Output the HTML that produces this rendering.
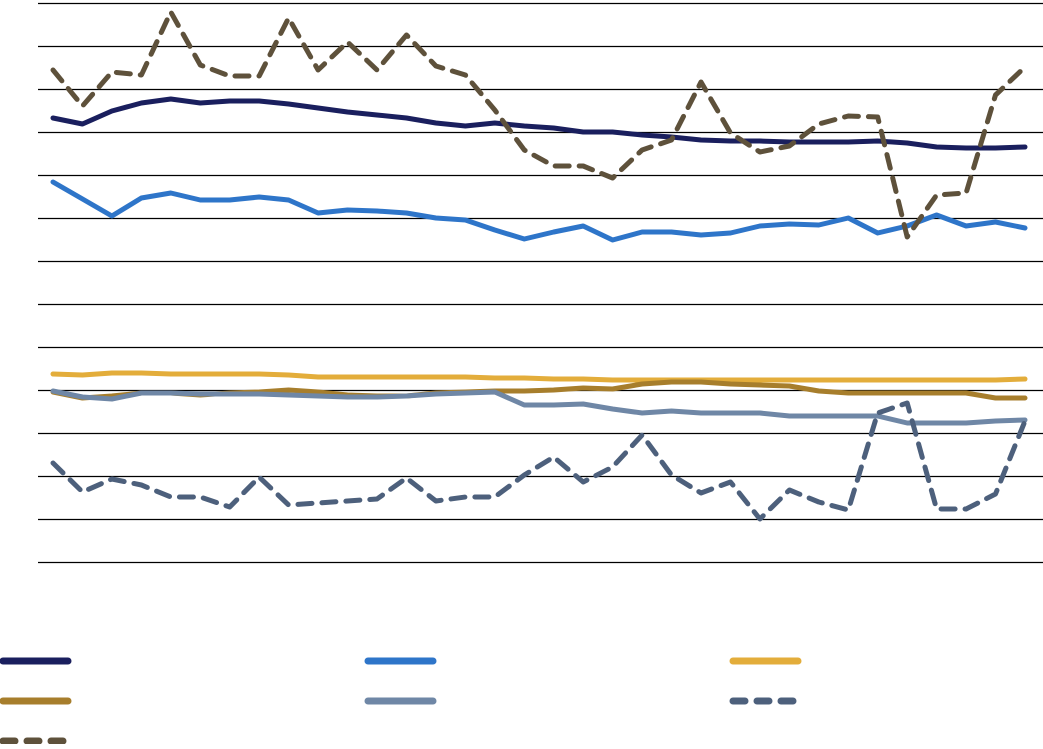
<!DOCTYPE html>
<html><head><meta charset="utf-8"><style>html,body{margin:0;padding:0;background:#fff}</style></head>
<body>
<svg width="1043" height="744" viewBox="0 0 1043 744" xmlns="http://www.w3.org/2000/svg">
<g stroke="#000" stroke-width="1.2">
<line x1="38" x2="1043" y1="3.5" y2="3.5"/><line x1="38" x2="1043" y1="46.5" y2="46.5"/><line x1="38" x2="1043" y1="89.5" y2="89.5"/><line x1="38" x2="1043" y1="132.5" y2="132.5"/><line x1="38" x2="1043" y1="175.5" y2="175.5"/><line x1="38" x2="1043" y1="218.5" y2="218.5"/><line x1="38" x2="1043" y1="261.5" y2="261.5"/><line x1="38" x2="1043" y1="304.5" y2="304.5"/><line x1="38" x2="1043" y1="347.5" y2="347.5"/><line x1="38" x2="1043" y1="390.5" y2="390.5"/><line x1="38" x2="1043" y1="433.5" y2="433.5"/><line x1="38" x2="1043" y1="476.5" y2="476.5"/><line x1="38" x2="1043" y1="519.5" y2="519.5"/><line x1="38" x2="1043" y1="562.5" y2="562.5"/>
</g>
<g fill="none" stroke-width="5" stroke-linejoin="round" stroke-linecap="round">
<path stroke="#1a1f5e" d="M53,118 L82.5,124 L111.9,111 L141.4,103 L170.8,99 L200.3,103 L229.7,101 L259.2,101 L288.6,104 L318.1,108 L347.5,112 L377,115 L406.5,118 L435.9,123 L465.4,126 L494.8,123 L524.3,126 L553.7,128 L583.2,132 L612.6,132 L642.1,135 L671.5,137 L701,140 L730.5,141 L759.9,141 L789.4,142 L818.8,142 L848.3,142 L877.7,141 L907.2,143 L936.6,147 L966.1,148 L995.5,148 L1025,147"/>
<path stroke="#2e75c9" d="M53,182 L82.5,199 L111.9,216 L141.4,198 L170.8,193 L200.3,200 L229.7,200 L259.2,197 L288.6,200 L318.1,213 L347.5,210 L377,211 L406.5,213 L435.9,218 L465.4,220 L494.8,230 L524.3,239 L553.7,232 L583.2,226 L612.6,240 L642.1,232 L671.5,232 L701,235 L730.5,233 L759.9,226 L789.4,224 L818.8,225 L848.3,218 L877.7,233 L907.2,226 L936.6,215 L966.1,226 L995.5,222 L1025,228"/>
<path stroke="#e3ad3b" d="M53,374 L82.5,375 L111.9,373 L141.4,373 L170.8,374 L200.3,374 L229.7,374 L259.2,374 L288.6,375 L318.1,377 L347.5,377 L377,377 L406.5,377 L435.9,377 L465.4,377 L494.8,378 L524.3,378 L553.7,379 L583.2,379 L612.6,380 L642.1,380 L671.5,380 L701,380 L730.5,380 L759.9,380 L789.4,380 L818.8,380 L848.3,380 L877.7,380 L907.2,380 L936.6,380 L966.1,380 L995.5,380 L1025,379"/>
<path stroke="#a77e2c" d="M53,392 L82.5,398 L111.9,396 L141.4,393 L170.8,393 L200.3,395 L229.7,393 L259.2,392 L288.6,390 L318.1,392 L347.5,395 L377,396 L406.5,396 L435.9,393 L465.4,392 L494.8,391 L524.3,391 L553.7,390 L583.2,388 L612.6,389 L642.1,384 L671.5,382 L701,382 L730.5,384 L759.9,385 L789.4,386 L818.8,391 L848.3,393 L877.7,393 L907.2,393 L936.6,393 L966.1,393 L995.5,398 L1025,398"/>
<path stroke="#6f87a6" d="M53,391 L82.5,397 L111.9,399 L141.4,393 L170.8,393 L200.3,394 L229.7,394 L259.2,394 L288.6,395 L318.1,396 L347.5,397 L377,397 L406.5,396 L435.9,394 L465.4,393 L494.8,392 L524.3,405 L553.7,405 L583.2,404 L612.6,409 L642.1,413 L671.5,411 L701,413 L730.5,413 L759.9,413 L789.4,416 L818.8,416 L848.3,416 L877.7,416 L907.2,423 L936.6,423 L966.1,423 L995.5,421 L1025,420"/>
<path stroke="#4d607c" stroke-dasharray="14 10" d="M53,463 L82.5,492 L111.9,479 L141.4,485 L170.8,497 L200.3,497 L229.7,507 L259.2,477 L288.6,505 L318.1,503 L347.5,501 L377,499 L406.5,478 L435.9,501 L465.4,497 L494.8,497 L524.3,475 L553.7,457 L583.2,482 L612.6,467 L642.1,435 L671.5,475 L701,493 L730.5,482 L759.9,519 L789.4,490 L818.8,502 L848.3,510 L877.7,413 L907.2,403 L936.6,509 L966.1,509 L995.5,494 L1025,421"/>
<path stroke="#5e513b" stroke-dasharray="14 10" d="M53,70 L82.5,106 L111.9,72 L141.4,75 L170.8,12 L200.3,65 L229.7,76 L259.2,76 L288.6,18 L318.1,70 L347.5,42 L377,70 L406.5,35 L435.9,66 L465.4,75 L494.8,110 L524.3,150 L553.7,166 L583.2,166 L612.6,178 L642.1,150 L671.5,140 L701,82 L730.5,133 L759.9,152 L789.4,146 L818.8,124 L848.3,116 L877.7,117 L907.2,237 L936.6,195 L966.1,193 L995.5,95 L1025,67"/>
</g>
<g stroke-width="7" stroke-linecap="round">
<line x1="3" x2="68" y1="661" y2="661" stroke="#1a1f5e"/>
<line x1="368" x2="433" y1="661" y2="661" stroke="#2e75c9"/>
<line x1="733" x2="798" y1="661" y2="661" stroke="#e3ad3b"/>
<line x1="3" x2="68" y1="701" y2="701" stroke="#a77e2c"/>
<line x1="368" x2="433" y1="701" y2="701" stroke="#6f87a6"/>
<line x1="733" x2="798" y1="701" y2="701" stroke="#4d607c" stroke-dasharray="12 12"/>
<line x1="3" x2="68" y1="741" y2="741" stroke="#5e513b" stroke-dasharray="12 12"/>
</g>
</svg>
</body></html>
